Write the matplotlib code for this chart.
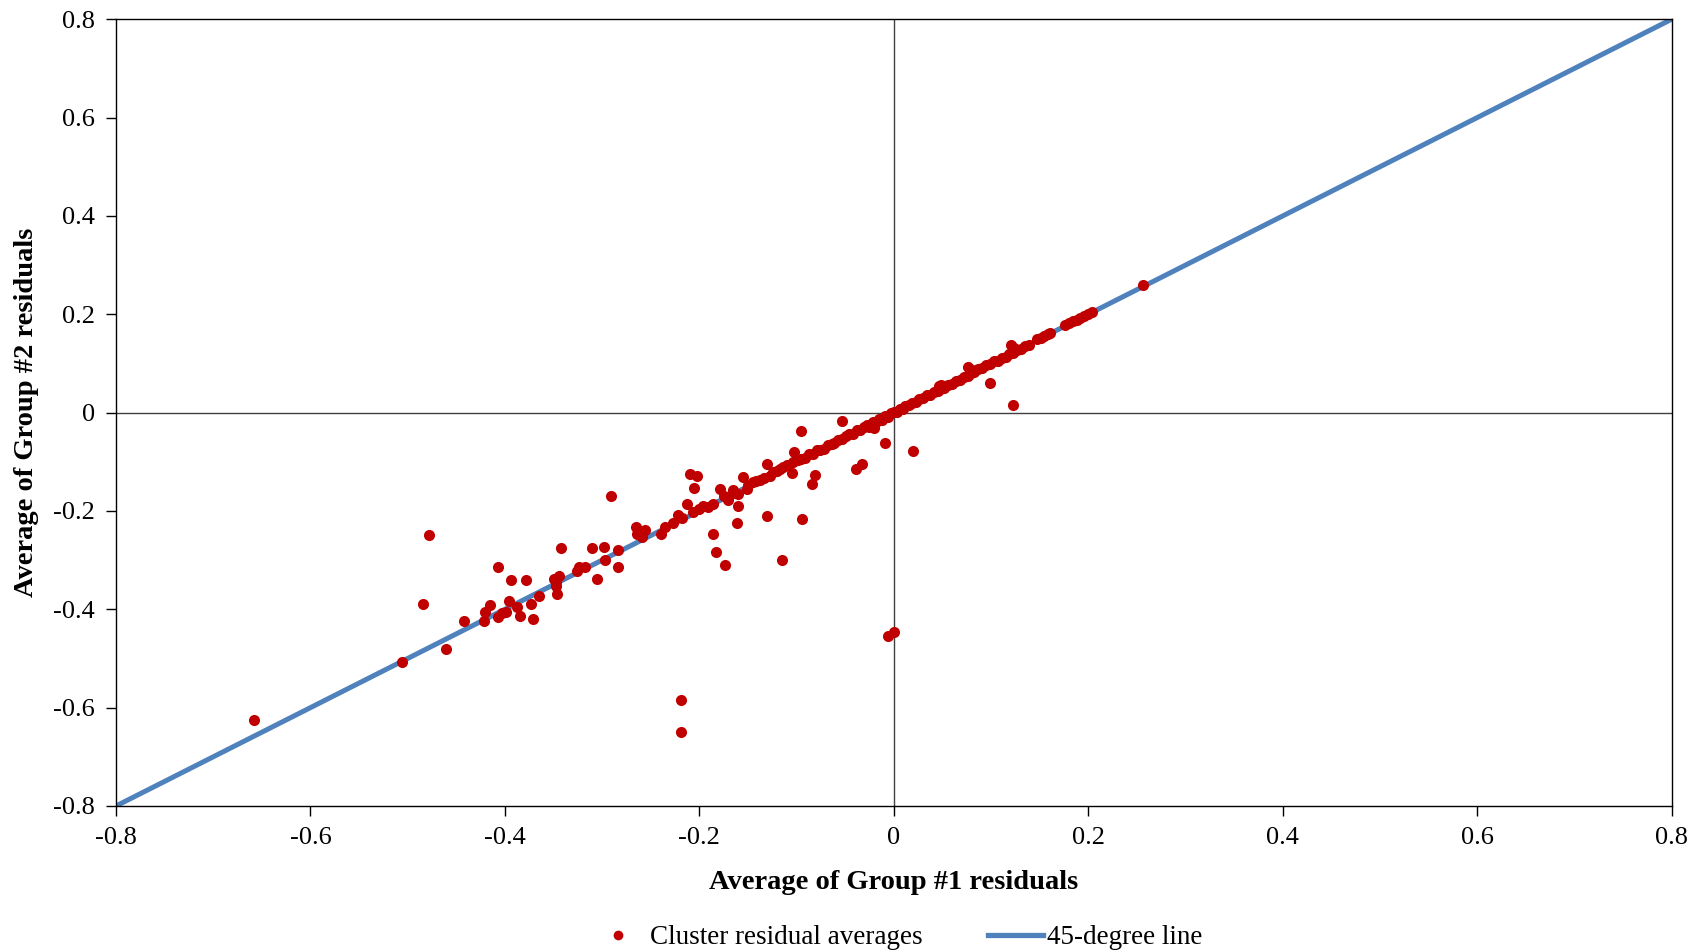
import matplotlib
matplotlib.use('Agg')
import matplotlib.pyplot as plt
from matplotlib.lines import Line2D

plt.rcParams['font.family'] = ['Liberation Serif', 'DejaVu Serif']

# ---- data: average residuals per cluster ----
group1_avg = [
    -0.658, -0.506, -0.478, -0.484, -0.461, -0.4425, -0.4215, -0.4205, -0.415, -0.407,
    -0.407, -0.403, -0.399, -0.396, -0.394, -0.388, -0.3845, -0.378, -0.3735, -0.371,
    -0.365, -0.350, -0.3476, -0.346, -0.344, -0.3427, -0.347, -0.326, -0.3236, -0.318,
    -0.3105, -0.305, -0.298, -0.297, -0.291, -0.2835, -0.2835, -0.2653, -0.2639, -0.2594,
    -0.256, -0.2397, -0.2268, -0.2224, -0.2131, -0.2063, -0.2097, -0.2029, -0.2053, -0.2187,
    -0.2187, -0.1909, -0.1858, -0.179, -0.1704, -0.1864, -0.1833, -0.1741, -0.1657, -0.1606,
    -0.1548, -0.1514, -0.1445, -0.1377, -0.1308, -0.1274, -0.1171, -0.1137, -0.1606, -0.1617,
    -0.1302, -0.115, -0.1051, -0.1027, -0.0949, -0.0952, -0.0846, -0.0812, -0.0531, -0.0384,
    -0.0322, -0.0093, -0.0058, 0.0000, 0.0199, 0.0986, 0.1228, 0.2565,
    -0.235, -0.218, -0.200, -0.196, -0.175, -0.165, -0.150, -0.142, -0.134, -0.124,
    -0.120, -0.110,
    -0.104, -0.099, -0.095, -0.091, -0.087, -0.083, -0.079, -0.076, -0.072, -0.068,
    -0.064, -0.061, -0.057, -0.053, -0.049, -0.046, -0.042, -0.038, -0.035, -0.031,
    -0.028, -0.024, -0.021, -0.018, -0.015, -0.012, -0.009, -0.006, -0.003, 0.000,
    0.003, 0.006, 0.009, 0.012, 0.016, 0.019, 0.023, 0.026, 0.030, 0.034,
    0.037, 0.041, 0.045, 0.048, 0.052, 0.056, 0.060, 0.064, 0.068, 0.072,
    0.076, 0.079, 0.083, 0.087, 0.091, 0.095, 0.099, 0.103, 0.107, 0.111,
    0.115, 0.119, 0.123, 0.127, 0.131, 0.135, 0.139,
    0.076, 0.080, 0.121, 0.124, -0.025, -0.020, -0.009, -0.0255, 0.046, 0.049,
    0.147, 0.151, 0.155, 0.159, 0.161, 0.176, 0.180, 0.184, 0.188, 0.192,
    0.196, 0.200, 0.204,
]
group2_avg = [
    -0.626, -0.508, -0.249, -0.389, -0.481, -0.423, -0.423, -0.405, -0.392, -0.313,
    -0.416, -0.408, -0.406, -0.384, -0.341, -0.396, -0.413, -0.340, -0.390, -0.420,
    -0.372, -0.338, -0.352, -0.368, -0.333, -0.276, -0.345, -0.3225, -0.313, -0.3144,
    -0.275, -0.338, -0.2736, -0.299, -0.1705, -0.280, -0.313, -0.2316, -0.2465, -0.2533,
    -0.2377, -0.2472, -0.2248, -0.2092, -0.1868, -0.2024, -0.1244, -0.1298, -0.1529, -0.585,
    -0.649, -0.1923, -0.1855, -0.155, -0.1773, -0.2465, -0.2838, -0.3103, -0.1583, -0.1651,
    -0.1312, -0.155, -0.1414, -0.138, -0.1054, -0.1279, -0.1142, -0.1109, -0.1904, -0.2250,
    -0.2112, -0.2994, -0.1231, -0.0803, -0.2160, -0.0376, -0.1447, -0.1277, -0.0172, -0.1142,
    -0.104, -0.0620, -0.4534, -0.4466, -0.0775, 0.0607, 0.0147, 0.2589,
    -0.232, -0.215, -0.197, -0.190, -0.170, -0.163, -0.148, -0.140, -0.132, -0.121,
    -0.118, -0.107,
    -0.101, -0.097, -0.094, -0.092, -0.085, -0.084, -0.077, -0.075, -0.073, -0.066,
    -0.063, -0.062, -0.055, -0.054, -0.048, -0.044, -0.043, -0.036, -0.036, -0.030,
    -0.026, -0.025, -0.020, -0.019, -0.013, -0.014, -0.007, -0.008, -0.001, 0.001,
    0.002, 0.007, 0.008, 0.013, 0.015, 0.020, 0.022, 0.027, 0.029, 0.035,
    0.036, 0.042, 0.044, 0.049, 0.051, 0.057, 0.059, 0.065, 0.067, 0.073,
    0.075, 0.080, 0.082, 0.088, 0.090, 0.096, 0.098, 0.104, 0.106, 0.112,
    0.114, 0.120, 0.122, 0.128, 0.130, 0.136, 0.138,
    0.092, 0.087, 0.137, 0.131, -0.030, -0.032, -0.009, -0.0268, 0.055, 0.057,
    0.149, 0.152, 0.156, 0.160, 0.162, 0.179, 0.182, 0.186, 0.189, 0.193,
    0.197, 0.201, 0.204,
]
line_x = [-0.8, 0.8]
line_y = [-0.8, 0.8]
ticks = [-0.8, -0.6, -0.4, -0.2, 0, 0.2, 0.4, 0.6, 0.8]
tick_labels = ['-0.8', '-0.6', '-0.4', '-0.2', '0', '0.2', '0.4', '0.6', '0.8']

RED = '#C00000'
BLUE = '#4F81BD'

fig = plt.figure(figsize=(17.01, 9.5), dpi=100)
ax = fig.add_axes([0.0682, 0.1516, 0.9145, 0.8281])

ax.axhline(0, color='#404040', lw=1.0, zorder=1)
ax.axvline(0, color='#404040', lw=1.0, zorder=1)
ax.plot(line_x, line_y, color=BLUE, lw=3.6, solid_capstyle='butt', zorder=2,
        label='45-degree line')
ax.plot(group1_avg, group2_avg, 'o', color=RED, markersize=8, markeredgewidth=0,
        zorder=3, label='Cluster residual averages')

ax.set_xlim(-0.8, 0.8)
ax.set_ylim(-0.8, 0.8)
ax.set_xticks(ticks)
ax.set_xticklabels(tick_labels)
ax.set_yticks(ticks)
ax.set_yticklabels(tick_labels)
ax.tick_params(direction='out', length=7, width=1, pad=8, labelsize=19, color='black')
for s in ax.spines.values():
    s.set_linewidth(1.0)
    s.set_color('black')

ax.set_xlabel('Average of Group #1 residuals', fontsize=20.5, fontweight='bold', labelpad=15)
ax.set_ylabel('Average of Group #2 residuals', fontsize=20.5, fontweight='bold', labelpad=10)

handles = [
    Line2D([], [], marker='o', linestyle='none', color=RED, markersize=7, markeredgewidth=0),
    Line2D([], [], color=BLUE, lw=3.8),
]
labels = ['Cluster residual averages', '45-degree line']
fig.legend(handles, labels, loc='center', bbox_to_anchor=(0.527, 0.013), ncol=2,
           frameon=False, fontsize=19.5, handlelength=2.05, handletextpad=0.15,
           columnspacing=2.4)

fig.savefig('out.png', dpi=100)
